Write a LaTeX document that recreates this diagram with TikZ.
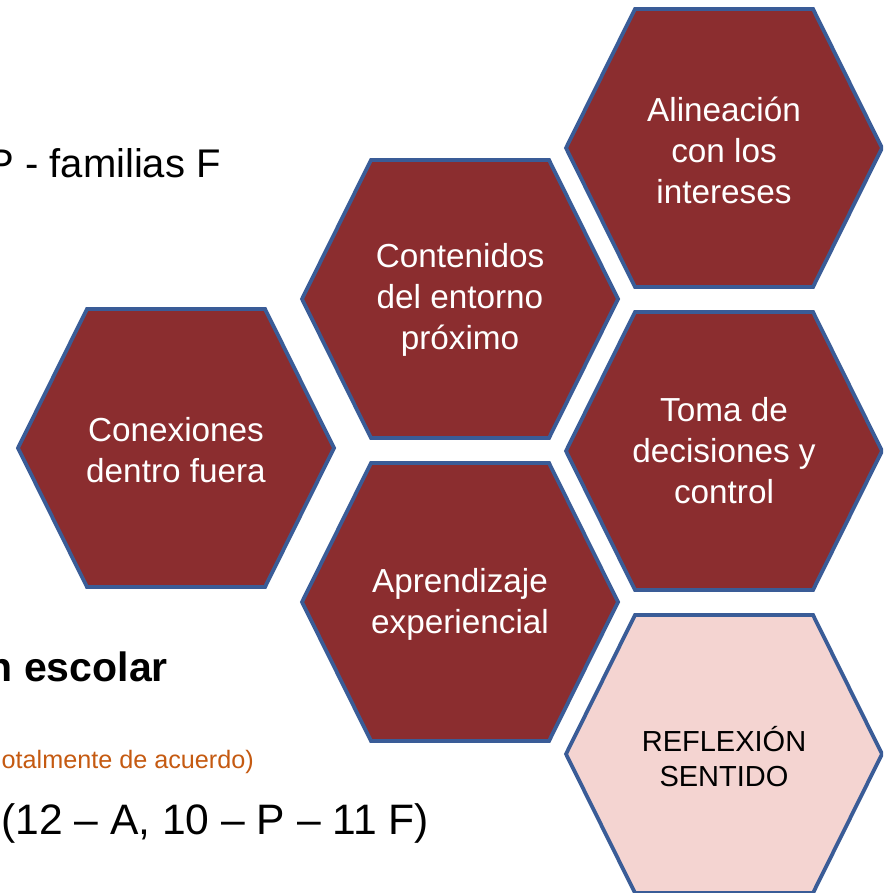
\documentclass[tikz,border=0pt]{standalone}
\usepackage{fontspec}
\setmainfont{Liberation Sans}
\definecolor{hexred}{HTML}{8B2D2F}
\definecolor{hexpink}{HTML}{F4D4D1}
\definecolor{hexblue}{HTML}{3A5C97}
\definecolor{orangetxt}{HTML}{C55A11}
\newcommand{\myhex}[3]{%
  \draw[#3, shift={(#1,#2)}] (-158,0) -- (-89,-139) -- (89,-139) -- (158,0) -- (89,139) -- (-89,139) -- cycle;}
\tikzset{
  hexdark/.style={fill=hexred, draw=hexblue, line width=3.8pt, line join=miter},
  hexlight/.style={fill=hexpink, draw=hexblue, line width=3.8pt, line join=miter},
  hextext/.style={text=white, align=center, inner sep=0pt, font=\fontsize{33.3}{41}\selectfont},
  hextextdark/.style={text=black, align=center, inner sep=0pt, font=\fontsize{29}{35}\selectfont},
  sidetext/.style={inner sep=0pt, text=black}
}
\begin{document}
\begin{tikzpicture}[x=1pt,y=-1pt]
\useasboundingbox (0,0) rectangle (883,893);
\clip (0,0) rectangle (883,893);
\fill[white] (0,0) rectangle (883,893);

% left texts
\node[sidetext, anchor=base east, font=\fontsize{40}{48}\selectfont] (t1) at (221,178) {P - familias F};
\node[sidetext, anchor=base east, font=\bfseries\fontsize{41}{49}\selectfont] (t2) at (168,681) {n escolar};
\node[sidetext, anchor=base east, text=orangetxt, font=\fontsize{25.2}{30}\selectfont] (t3) at (254,768) {otalmente de acuerdo)};
\node[sidetext, anchor=base west, font=\fontsize{42.6}{50}\selectfont] (t4) at (1,834) {(12 – A, 10 – P – 11 F)};

% hexagons
\myhex{724}{148}{hexdark}
\myhex{460}{299}{hexdark}
\myhex{176}{448}{hexdark}
\myhex{724}{451}{hexdark}
\myhex{460}{602}{hexdark}
\myhex{724}{754}{hexlight}

\node[hextext] (alin) at (724,150) {Alineación\\con los\\intereses};
\node[hextext] (cont) at (460,300) {Contenidos\\del entorno\\próximo};
\node[hextext] (conx) at (176,450) {Conexiones\\dentro fuera};
\node[hextext] (toma) at (724,451) {Toma de\\decisiones y\\control};
\node[hextext] (apre) at (460,604) {Aprendizaje\\experiencial};
\node[hextextdark] (refl) at (724,757) {REFLEXIÓN\\SENTIDO};
\end{tikzpicture}
\end{document}
